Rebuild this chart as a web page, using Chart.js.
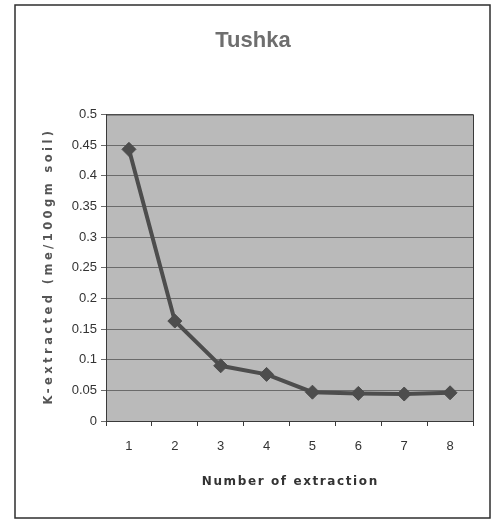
<!DOCTYPE html>
<html>
<head>
<meta charset="utf-8">
<title>Tushka</title>
<script src="https://cdn.jsdelivr.net/npm/chart.js@4"></script>
<style>
  html, body { margin: 0; padding: 0; background: #fff; }
  #wrap { width: 493px; height: 523px; }
</style>
</head>
<body>
<div id="wrap"><canvas id="tushka-chart" width="493" height="523"></canvas></div>
<script>
// Данные графика
const extractionNumbers = ['1', '2', '3', '4', '5', '6', '7', '8'];
const kExtracted = [0.443, 0.163, 0.09, 0.076, 0.047, 0.045, 0.044, 0.046];

const chartTitle = 'Tushka';
const xAxisTitle = 'Number of extraction';
const yAxisTitle = 'K-extracted (me/100gm soil)';

/**
 * Рисует текст, растянутый межбуквенным интервалом до нужной ширины
 */
function drawSpacedText(ctx, text, x, y, targetWidth) {
    ctx.letterSpacing = '0px';
    const base = ctx.measureText(text).width;
    const spacing = Math.max(0, (targetWidth - base) / text.length);
    ctx.letterSpacing = spacing + 'px';
    ctx.fillText(text, x + spacing / 2, y);
}

/**
 * Фон области построения, рамки и подписи осей
 */
const framePlugin = {
    id: 'frame',
    beforeDraw(chart) {
        const { ctx, chartArea: a } = chart;
        ctx.save();
        ctx.fillStyle = '#ffffff';
        ctx.fillRect(0, 0, chart.width, chart.height);
        // внешняя рамка
        ctx.strokeStyle = '#2e2e2e';
        ctx.lineWidth = 1.5;
        ctx.strokeRect(15, 5, 475, 513);
        // серая область графика
        ctx.fillStyle = '#bababa';
        ctx.fillRect(a.left, a.top, a.right - a.left, a.bottom - a.top);
        ctx.restore();
    },
    afterDraw(chart) {
        const { ctx, chartArea: a } = chart;
        ctx.save();
        ctx.strokeStyle = '#3a3a3a';
        ctx.lineWidth = 1;
        ctx.strokeRect(a.left + 0.5, a.top + 0.5, a.right - a.left, a.bottom - a.top);

        // подписи осей (разреженные буквы, как в оригинале)
        ctx.textAlign = 'center';
        ctx.textBaseline = 'middle';
        ctx.fillStyle = '#333333';
        ctx.font = 'bold 12px "DejaVu Sans", Arial, sans-serif';
        drawSpacedText(ctx, xAxisTitle, (a.left + a.right) / 2, 482, 177);

        ctx.fillStyle = '#555555';
        ctx.font = 'bold 11.5px "DejaVu Sans", Arial, sans-serif';
        ctx.translate(49, (a.top + a.bottom) / 2);
        ctx.rotate(-Math.PI / 2);
        drawSpacedText(ctx, yAxisTitle, 0, 0, 277);
        ctx.restore();
    }
};

function initChart() {
    const ctx = document.getElementById('tushka-chart').getContext('2d');
    return new Chart(ctx, {
        type: 'line',
        data: {
            labels: extractionNumbers,
            datasets: [{
                label: chartTitle,
                data: kExtracted,
                borderColor: '#4d4d4d',
                borderWidth: 4,
                backgroundColor: '#4d4d4d',
                pointStyle: 'rectRot',
                pointRadius: 7,
                pointBorderWidth: 1,
                pointBorderColor: '#4d4d4d',
                pointBackgroundColor: '#4d4d4d',
                tension: 0
            }]
        },
        options: {
            responsive: false,
            animation: false,
            devicePixelRatio: 1,
            layout: {
                padding: { left: 33, right: 20, top: 0, bottom: 0 }
            },
            plugins: {
                legend: { display: false },
                tooltip: { enabled: false },
                title: {
                    display: true,
                    text: chartTitle,
                    color: '#6e6e6e',
                    font: { family: '"Liberation Sans", Arial, sans-serif', size: 22, weight: 'bold' },
                    padding: { top: 28, bottom: 60 }
                }
            },
            scales: {
                x: {
                    type: 'category',
                    offset: true,
                    afterFit(scale) { scale.height = 102; },
                    grid: {
                        offset: true,
                        drawOnChartArea: false,
                        drawTicks: true,
                        tickLength: 5,
                        color: '#3a3a3a'
                    },
                    border: { display: true, color: '#3a3a3a', width: 1 },
                    ticks: {
                        color: '#333',
                        padding: 13,
                        font: { family: '"Liberation Sans", Arial, sans-serif', size: 13 }
                    }
                },
                y: {
                    min: 0,
                    max: 0.5,
                    afterFit(scale) { scale.width = 73; },
                    grid: {
                        color: '#6b6b6b',
                        lineWidth: 1,
                        drawTicks: true,
                        tickLength: 5
                    },
                    border: { display: true, color: '#3a3a3a', width: 1 },
                    ticks: {
                        stepSize: 0.05,
                        color: '#333',
                        padding: 4,
                        font: { family: '"Liberation Sans", Arial, sans-serif', size: 13 },
                        // 0.5, 0.45, 0.4 ... без лишних нулей
                        callback: value => String(Number(value.toFixed(2)))
                    }
                }
            }
        },
        plugins: [framePlugin]
    });
}

initChart();
</script>
</body>
</html>
